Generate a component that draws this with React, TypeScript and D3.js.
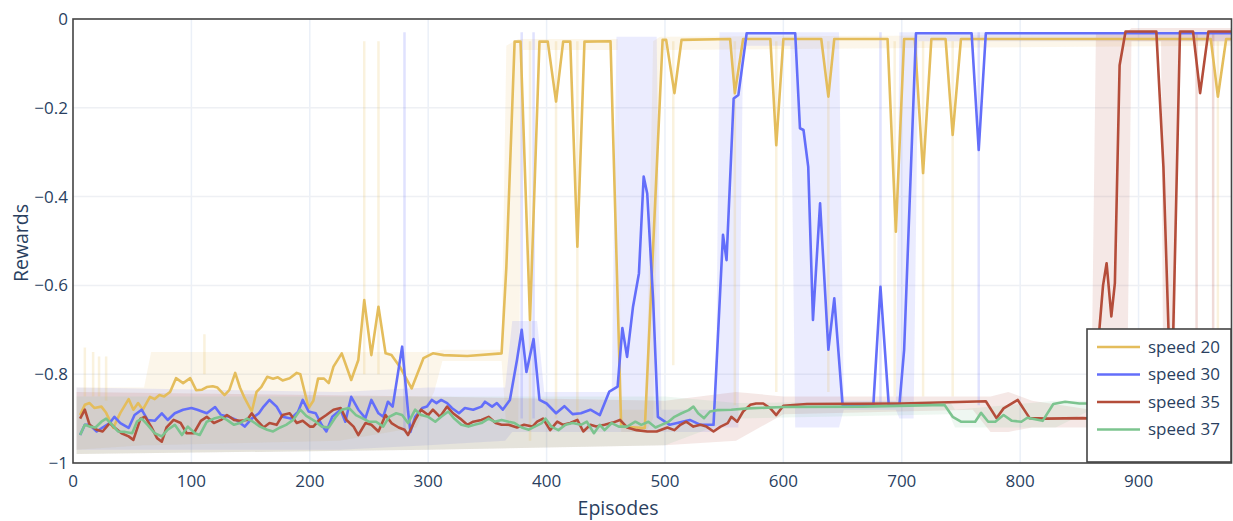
import React from "react";
import * as d3 from "d3";

const seriesNames = ["speed 20", "speed 30", "speed 35", "speed 37"];
const seriesColors = ["#e4bd5c", "#636efa", "#b44d3a", "#7cc48f"];

const xTicks = [0, 100, 200, 300, 400, 500, 600, 700, 800, 900];
const yTicks = [0, -0.2, -0.4, -0.6, -0.8, -1];
const yTickLabels = ["0", "−0.2", "−0.4", "−0.6", "−0.8", "−1"];

// smoothed rewards, [episode, reward]
const speed20: [number, number][] = [
  [6, -0.892], [10, -0.869], [14, -0.865], [18, -0.876], [24, -0.873], [28, -0.887], [34, -0.921], [40, -0.887],
  [47, -0.856], [51, -0.88], [55, -0.865], [59, -0.88], [65, -0.851], [69, -0.856], [73, -0.847], [77, -0.85],
  [82, -0.84], [87, -0.809], [93, -0.82], [99, -0.809], [104, -0.836], [109, -0.835], [113, -0.829], [118, -0.827],
  [122, -0.83], [128, -0.847], [132, -0.836], [137, -0.797], [141, -0.83], [145, -0.854], [151, -0.884], [155, -0.84],
  [159, -0.829], [164, -0.806], [169, -0.81], [173, -0.807], [177, -0.814], [183, -0.809], [189, -0.797], [192, -0.8],
  [199, -0.876], [203, -0.86], [207, -0.81], [212, -0.81], [216, -0.82], [220, -0.783], [227, -0.753], [235, -0.813],
  [241, -0.768], [246, -0.633], [252, -0.757], [258, -0.648], [264, -0.753], [269, -0.757], [276, -0.783], [286, -0.832],
  [296, -0.764], [304, -0.753], [313, -0.757], [333, -0.759], [362, -0.753], [366, -0.56], [373, -0.051], [378, -0.051],
  [386, -0.678], [394, -0.051], [401, -0.051], [408, -0.186], [414, -0.051], [420, -0.051], [426, -0.513], [432, -0.051],
  [454, -0.05], [463, -0.918], [483, -0.921], [498, -0.047], [501, -0.047], [508, -0.167], [514, -0.047], [555, -0.045],
  [559, -0.167], [566, -0.045], [589, -0.045], [594, -0.284], [600, -0.045], [632, -0.045], [638, -0.175], [643, -0.045],
  [688, -0.045], [695, -0.479], [702, -0.045], [711, -0.045], [718, -0.347], [725, -0.045], [737, -0.045], [743, -0.261],
  [750, -0.045], [961, -0.045], [967, -0.175], [974, -0.045], [979, -0.045],
];

const speed30: [number, number][] = [
  [6, -0.937], [10, -0.914], [14, -0.914], [20, -0.929], [25, -0.92], [31, -0.91], [35, -0.896], [40, -0.91],
  [47, -0.921], [52, -0.892], [58, -0.88], [63, -0.903], [69, -0.905], [75, -0.888], [80, -0.903], [86, -0.888],
  [93, -0.88], [100, -0.876], [105, -0.88], [113, -0.888], [120, -0.874], [125, -0.892], [132, -0.896], [138, -0.903],
  [145, -0.918], [151, -0.9], [157, -0.888], [161, -0.873], [166, -0.858], [172, -0.873], [177, -0.896], [184, -0.9],
  [190, -0.885], [194, -0.858], [199, -0.884], [205, -0.888], [210, -0.914], [214, -0.929], [219, -0.896], [226, -0.88],
  [230, -0.907], [235, -0.851], [241, -0.88], [247, -0.899], [252, -0.858], [258, -0.888], [262, -0.896], [266, -0.862],
  [270, -0.873], [278, -0.738], [283, -0.884], [285, -0.93], [289, -0.896], [295, -0.876], [299, -0.873], [303, -0.858],
  [307, -0.865], [311, -0.858], [316, -0.865], [320, -0.876], [326, -0.888], [331, -0.876], [338, -0.88], [345, -0.873],
  [348, -0.862], [354, -0.873], [358, -0.865], [363, -0.88], [369, -0.858], [375, -0.768], [379, -0.7], [383, -0.795],
  [389, -0.721], [394, -0.858], [400, -0.866], [408, -0.888], [415, -0.872], [422, -0.89], [429, -0.888], [437, -0.88],
  [445, -0.892], [453, -0.839], [460, -0.828], [464, -0.696], [468, -0.761], [473, -0.648], [478, -0.573], [482, -0.355],
  [485, -0.393], [490, -0.633], [494, -0.896], [504, -0.914], [521, -0.903], [530, -0.914], [541, -0.914], [549, -0.486],
  [552, -0.543], [558, -0.179], [562, -0.171], [569, -0.032], [610, -0.032], [614, -0.246], [617, -0.25], [621, -0.333],
  [625, -0.678], [631, -0.415], [638, -0.745], [643, -0.629], [650, -0.869], [676, -0.869], [682, -0.603], [689, -0.869],
  [698, -0.869], [702, -0.745], [712, -0.032], [759, -0.032], [765, -0.295], [771, -0.032], [979, -0.032],
];

const speed35: [number, number][] = [
  [6, -0.9], [10, -0.88], [14, -0.914], [20, -0.925], [25, -0.929], [31, -0.91], [35, -0.92], [41, -0.933],
  [47, -0.94], [51, -0.948], [57, -0.9], [61, -0.896], [66, -0.918], [71, -0.944], [75, -0.952], [79, -0.92],
  [85, -0.903], [91, -0.91], [96, -0.933], [102, -0.933], [108, -0.905], [113, -0.896], [119, -0.91], [125, -0.903],
  [130, -0.892], [136, -0.903], [141, -0.905], [147, -0.903], [151, -0.888], [155, -0.903], [161, -0.92], [166, -0.91],
  [172, -0.914], [177, -0.892], [183, -0.888], [189, -0.91], [194, -0.905], [200, -0.918], [203, -0.918], [208, -0.903],
  [214, -0.892], [220, -0.88], [226, -0.876], [231, -0.903], [237, -0.918], [241, -0.937], [247, -0.91], [252, -0.914],
  [258, -0.929], [264, -0.892], [269, -0.91], [275, -0.92], [280, -0.925], [283, -0.937], [289, -0.903], [294, -0.88],
  [300, -0.892], [304, -0.88], [310, -0.896], [316, -0.873], [321, -0.888], [327, -0.9], [333, -0.914], [338, -0.907],
  [345, -0.903], [351, -0.896], [357, -0.91], [362, -0.914], [368, -0.914], [375, -0.92], [381, -0.914], [388, -0.918],
  [392, -0.907], [397, -0.9], [403, -0.926], [409, -0.907], [414, -0.914], [420, -0.91], [426, -0.903], [431, -0.929],
  [437, -0.914], [442, -0.918], [449, -0.914], [456, -0.909], [462, -0.903], [468, -0.92], [476, -0.926], [485, -0.929],
  [493, -0.929], [502, -0.92], [508, -0.926], [513, -0.914], [518, -0.907], [524, -0.918], [530, -0.914], [535, -0.918],
  [541, -0.929], [547, -0.918], [553, -0.91], [556, -0.896], [561, -0.907], [566, -0.884], [572, -0.869], [577, -0.866],
  [583, -0.866], [589, -0.877], [594, -0.892], [600, -0.871], [620, -0.867], [700, -0.866], [771, -0.861], [780, -0.899],
  [786, -0.877], [798, -0.858], [808, -0.899], [822, -0.9], [853, -0.899], [860, -0.9], [865, -0.76], [870, -0.6],
  [873, -0.55], [877, -0.67], [880, -0.595], [884, -0.104], [889, -0.028], [915, -0.028], [921, -0.333], [926, -0.76],
  [929, -0.74], [935, -0.028], [946, -0.028], [952, -0.167], [959, -0.028], [979, -0.028],
];

const speed37: [number, number][] = [
  [6, -0.937], [10, -0.914], [14, -0.918], [19, -0.92], [24, -0.907], [28, -0.9], [33, -0.914], [38, -0.929],
  [44, -0.93], [50, -0.933], [54, -0.907], [58, -0.9], [63, -0.914], [69, -0.933], [75, -0.94], [80, -0.925],
  [86, -0.914], [92, -0.937], [97, -0.918], [103, -0.933], [107, -0.937], [113, -0.907], [119, -0.9], [125, -0.896],
  [130, -0.903], [136, -0.914], [141, -0.91], [147, -0.9], [152, -0.907], [158, -0.918], [164, -0.925], [169, -0.929],
  [175, -0.92], [180, -0.914], [186, -0.903], [192, -0.88], [197, -0.894], [205, -0.907], [210, -0.918], [216, -0.92],
  [222, -0.896], [227, -0.88], [233, -0.876], [239, -0.892], [245, -0.9], [250, -0.907], [256, -0.907], [262, -0.918],
  [267, -0.896], [273, -0.888], [278, -0.892], [283, -0.91], [289, -0.88], [294, -0.892], [300, -0.896], [306, -0.907],
  [311, -0.896], [317, -0.884], [322, -0.9], [328, -0.914], [334, -0.918], [339, -0.914], [345, -0.91], [351, -0.9],
  [356, -0.907], [362, -0.903], [368, -0.907], [373, -0.91], [379, -0.92], [385, -0.925], [390, -0.918], [396, -0.91],
  [399, -0.9], [404, -0.918], [410, -0.926], [416, -0.914], [422, -0.91], [429, -0.914], [434, -0.907], [440, -0.933],
  [445, -0.914], [449, -0.926], [455, -0.91], [461, -0.918], [468, -0.918], [475, -0.907], [480, -0.914], [486, -0.907],
  [492, -0.92], [497, -0.914], [503, -0.907], [508, -0.896], [514, -0.888], [520, -0.881], [524, -0.873], [528, -0.888],
  [533, -0.899], [538, -0.884], [544, -0.881], [556, -0.88], [570, -0.877], [600, -0.874], [667, -0.873], [736, -0.869],
  [743, -0.896], [750, -0.907], [762, -0.907], [767, -0.887], [773, -0.907], [779, -0.907], [786, -0.892], [793, -0.905],
  [801, -0.907], [806, -0.898], [819, -0.905], [828, -0.867], [838, -0.862], [850, -0.866], [870, -0.866],
];

// spread of the raw episode rewards, [episode, low, high]
const raw20: [number, number, number][] = [
  [3, -0.97, -0.83], [60, -0.96, -0.83], [66, -0.96, -0.75], [225, -0.95, -0.75], [290, -0.92, -0.75], [305, -0.84, -0.75],
  [312, -0.77, -0.745], [362, -0.77, -0.745], [366, -0.92, -0.06], [376, -0.92, -0.045], [380, -0.07, -0.045],
  [460, -0.07, -0.045], [463, -0.93, -0.88], [484, -0.93, -0.88], [490, -0.9, -0.05], [496, -0.07, -0.04], [979, -0.06, -0.035],
];
const raw30: [number, number, number][] = [
  [3, -0.97, -0.83], [225, -0.97, -0.84], [300, -0.96, -0.83], [365, -0.95, -0.83], [371, -0.93, -0.68], [392, -0.93, -0.68],
  [398, -0.93, -0.84], [455, -0.93, -0.84], [459, -0.93, -0.04], [493, -0.93, -0.04], [497, -0.93, -0.88], [543, -0.93, -0.88],
  [546, -0.92, -0.03], [562, -0.92, -0.03], [566, -0.06, -0.03], [606, -0.06, -0.03], [610, -0.92, -0.03], [647, -0.92, -0.03],
  [651, -0.88, -0.86], [695, -0.88, -0.86], [698, -0.9, -0.03], [710, -0.9, -0.03], [714, -0.05, -0.03], [979, -0.05, -0.03],
];
const raw35: [number, number, number][] = [
  [3, -0.98, -0.84], [300, -0.97, -0.85], [500, -0.96, -0.86], [560, -0.95, -0.84], [600, -0.89, -0.85], [760, -0.88, -0.85],
  [775, -0.93, -0.85], [790, -0.93, -0.84], [810, -0.92, -0.86], [860, -0.92, -0.88], [864, -0.92, -0.03], [890, -0.92, -0.03],
  [894, -0.05, -0.02], [919, -0.05, -0.02], [921, -0.9, -0.02], [930, -0.9, -0.02], [934, -0.05, -0.02], [979, -0.05, -0.02],
];
const raw37: [number, number, number][] = [
  [3, -0.98, -0.85], [300, -0.97, -0.85], [500, -0.96, -0.85], [540, -0.92, -0.86], [560, -0.9, -0.865], [740, -0.89, -0.86],
  [745, -0.92, -0.88], [830, -0.92, -0.86], [860, -0.88, -0.86],
];

// single raw episodes far from the trend, [episode, from, to]
const spikes20: [number, number, number][] = [
  [10, -0.85, -0.74], [17, -0.85, -0.75], [22, -0.85, -0.76], [28, -0.86, -0.76], [111, -0.8, -0.71], [246, -0.8, -0.05],
  [258, -0.8, -0.05], [386, -0.05, -0.95], [408, -0.05, -0.9], [426, -0.05, -0.9], [507, -0.05, -0.78], [559, -0.05, -0.87],
  [594, -0.05, -0.84], [638, -0.05, -0.84], [694, -0.05, -0.85], [718, -0.05, -0.85], [743, -0.05, -0.85], [967, -0.05, -0.95],
];
const spikes30: [number, number, number][] = [
  [280, -0.93, -0.03], [379, -0.9, -0.03], [389, -0.9, -0.03], [682, -0.87, -0.03], [765, -0.87, -0.03],
];
const spikes35: [number, number, number][] = [
  [949, -0.03, -0.9], [963, -0.03, -0.9],
];
const spikes37: [number, number, number][] = [];

const smoothed = [speed20, speed30, speed35, speed37];
const raws = [raw20, raw30, raw35, raw37];
const spikes = [spikes20, spikes30, spikes35, spikes37];

const W = 1233;
const H = 521;
const left = 73;
const right = 1231.5;
const top = 19;
const bottom = 463;
const textColor = "#2a3f5f";
const font = "'Open Sans', sans-serif";

export default function App() {
  const x = d3.scaleLinear([0, 978.5], [left, right]);
  const y = d3.scaleLinear([-1, 0], [bottom, top]);

  const line = d3.line<[number, number]>().x(d => x(d[0])).y(d => y(d[1]));
  const band = d3.area<[number, number, number]>()
    .x(d => x(d[0]))
    .y0(d => y(d[1]))
    .y1(d => y(d[2]));

  const legendRows = [347, 374.5, 402, 429.5];

  return (
    <svg width={W} height={H} style={{ position: "absolute", left: 0, top: 0, background: "#fff" }} fontFamily={font}>
      <defs>
        <clipPath id="plot">
          <rect x={left} y={top} width={right - left} height={bottom - top} />
        </clipPath>
      </defs>

      {/* grid */}
      {xTicks.slice(1).map(t => (
        <line key={"gx" + t} x1={x(t)} x2={x(t)} y1={top} y2={bottom} stroke="#ebf0f8" strokeWidth={1.5} />
      ))}
      {yTicks.slice(1, -1).map(t => (
        <line key={"gy" + t} x1={left} x2={right} y1={y(t)} y2={y(t)} stroke="#eef0f4" strokeWidth={1.5} />
      ))}

      <g clipPath="url(#plot)">
        {raws.map((r, i) => (
          <path key={"band" + i} d={band(r) ?? ""} fill={seriesColors[i]} fillOpacity={0.13} />
        ))}
        {spikes.map((s, i) =>
          s.map(d => (
            <line key={"sp" + i + "-" + d[0]} x1={x(d[0])} x2={x(d[0])} y1={y(d[1])} y2={y(d[2])}
              stroke={seriesColors[i]} strokeOpacity={0.2} strokeWidth={2.5} />
          ))
        )}
        {smoothed.map((s, i) => (
          <path key={"line" + i} d={line(s) ?? ""} fill="none" stroke={seriesColors[i]} strokeWidth={2.6}
            strokeLinejoin="round" />
        ))}
      </g>

      {/* frame */}
      <rect x={left} y={top} width={right - left} height={bottom - top} fill="none" stroke="#444" strokeWidth={1.6} />

      {/* ticks */}
      {xTicks.map(t => (
        <text key={"tx" + t} x={x(t)} y={bottom + 24} textAnchor="middle" fontSize={17} fill={textColor}>{t}</text>
      ))}
      {yTicks.map((t, i) => (
        <text key={"ty" + t} x={left - 5} y={y(t)} dy="0.35em" textAnchor="end" fontSize={17} fill={textColor}>
          {yTickLabels[i]}
        </text>
      ))}

      <text x={618} y={515} textAnchor="middle" fontSize={19.5} fill={textColor}>Episodes</text>
      <text transform={`translate(28,243) rotate(-90)`} textAnchor="middle" fontSize={19.5} fill={textColor}>Rewards</text>

      {/* legend */}
      <rect x={1087} y={329} width={144} height={133} fill="#fff" stroke="#444" strokeWidth={1.6} />
      {seriesNames.map((name, i) => (
        <g key={name}>
          <line x1={1097} x2={1140} y1={legendRows[i]} y2={legendRows[i]} stroke={seriesColors[i]} strokeWidth={2.6} />
          <text x={1148} y={legendRows[i]} dy="0.35em" fontSize={17} fill={textColor}>{name}</text>
        </g>
      ))}
    </svg>
  );
}
